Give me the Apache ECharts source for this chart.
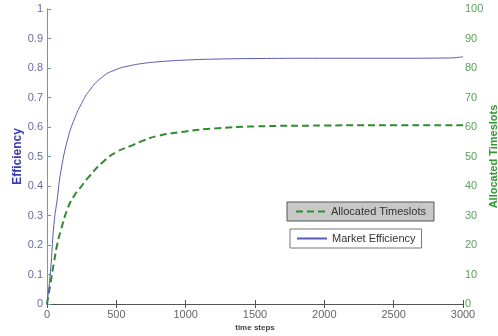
<!DOCTYPE html>
<html>
<head>
<meta charset="utf-8">
<script src="https://cdn.jsdelivr.net/npm/echarts@6/dist/echarts.min.js"></script>
<style>
  html, body { margin: 0; padding: 0; background: #fff; }
  #chart { width: 498px; height: 336px; }
</style>
</head>
<body>
<div id="chart"></div>
<script>
// values
const effSteps = [0, 25, 50, 75, 100, 150, 200, 250, 300, 400, 500, 600, 700, 800, 1000, 1200, 1500, 2000, 2500, 2900, 3000];
const efficiency = [0, 0.11, 0.27, 0.36, 0.45, 0.56, 0.63, 0.68, 0.72, 0.77, 0.795, 0.808, 0.816, 0.821, 0.827, 0.83, 0.832, 0.833, 0.833, 0.834, 0.838];

const slotSteps = [0, 25, 50, 75, 100, 150, 200, 250, 300, 400, 500, 600, 700, 800, 1000, 1200, 1500, 2000, 2500, 3000];
const timeslots = [0, 7, 14, 20.5, 25, 32.5, 37, 40, 43, 48, 51.5, 53.5, 55.5, 57, 58.5, 59.5, 60.2, 60.5, 60.6, 60.6];

const blue = "#5858b8";
const green = "#2e8b2e";

const chart = echarts.init(document.getElementById("chart"));

chart.setOption({
  animation: false,
  backgroundColor: "#fff",
  grid: { left: 47, right: 35, top: 9, bottom: 32, containLabel: false, outerBoundsMode: "none" },
  legend: [
    {
      data: ["Allocated Timeslots"],
      left: 287,
      top: 202,
      padding: [4, 8, 4, 8],
      itemWidth: 30,
      itemHeight: 10,
      itemGap: 4,
      itemStyle: { opacity: 0 },
      backgroundColor: "#c8c8c8",
      borderColor: "#555",
      borderWidth: 1,
      textStyle: { fontSize: 11, color: "#333", fontFamily: "Arial, sans-serif" },
    },
    {
      data: ["Market Efficiency"],
      left: 290,
      top: 229,
      padding: [4, 6, 4, 6],
      itemWidth: 30,
      itemHeight: 10,
      itemGap: 4,
      itemStyle: { opacity: 0 },
      backgroundColor: "#fff",
      borderColor: "#777",
      borderWidth: 1,
      textStyle: { fontSize: 11, color: "#333", fontFamily: "Arial, sans-serif" },
    },
  ],
  xAxis: [
    {
      type: "value",
      min: 0,
      max: 3000,
      interval: 500,
      name: "time steps",
      nameLocation: "middle",
      nameGap: 20,
      nameMoveOverlap: false,
      nameTextStyle: { fontSize: 8, color: "#444", fontWeight: "bold", fontFamily: "Arial, sans-serif" },
      axisLine: { lineStyle: { color: "#888", width: 1 } },
      axisTick: { inside: true, length: 4, lineStyle: { color: "#555" } },
      axisLabel: { fontSize: 11, color: "#666", margin: 5, fontFamily: "Arial, sans-serif", formatter: (v) => String(v) },
      splitLine: { show: false },
    },
    {
      type: "value",
      position: "top",
      min: 0,
      max: 3000,
      interval: 500,
      axisLine: { show: true, lineStyle: { color: "#555", width: 1 } },
      axisTick: { inside: true, length: 4, lineStyle: { color: "#555" } },
      axisLabel: { show: false },
      splitLine: { show: false },
    },
  ],
  yAxis: [
    {
      type: "value",
      min: 0,
      max: 1,
      interval: 0.1,
      name: "Efficiency",
      nameLocation: "middle",
      nameGap: 23,
      nameMoveOverlap: false,
      nameTextStyle: { fontSize: 12, fontWeight: "bold", color: "#3a3ab8", fontFamily: "Arial, sans-serif" },
      axisLine: { show: true, lineStyle: { color: "#7a7ab8", width: 1 } },
      axisTick: { show: true, inside: true, length: 4, lineStyle: { color: "#7a7ab8" } },
      axisLabel: { fontSize: 11, color: "#6a6aa8", margin: 4, fontFamily: "Arial, sans-serif" },
      splitLine: { show: false },
    },
    {
      type: "value",
      min: 0,
      max: 100,
      interval: 10,
      position: "right",
      name: "Allocated Timeslots",
      nameLocation: "middle",
      nameGap: 25,
      nameRotate: 90,
      nameMoveOverlap: false,
      nameTextStyle: { fontSize: 11, fontWeight: "bold", color: "#2e9a2e", fontFamily: "Arial, sans-serif" },
      axisLine: { show: true, lineStyle: { color: "#6aaa6a", width: 1 } },
      axisTick: { show: true, inside: false, length: 3, lineStyle: { color: "#6aaa6a" } },
      axisLabel: { fontSize: 11, color: "#5aa05a", margin: 2, fontFamily: "Arial, sans-serif" },
      splitLine: { show: false },
    },
  ],
  series: [
    {
      name: "Allocated Timeslots",
      type: "line",
      yAxisIndex: 1,
      smooth: true,
      symbol: "none",
      data: slotSteps.map((t, i) => [t, timeslots[i]]),
      lineStyle: { color: green, width: 2, type: [7, 4] },
      itemStyle: { color: green },
    },
    {
      name: "Market Efficiency",
      type: "line",
      yAxisIndex: 0,
      smooth: true,
      symbol: "none",
      data: effSteps.map((t, i) => [t, efficiency[i]]),
      lineStyle: { color: blue, width: 1 },
      itemStyle: { color: blue },
    },
  ],
});
</script>
</body>
</html>
